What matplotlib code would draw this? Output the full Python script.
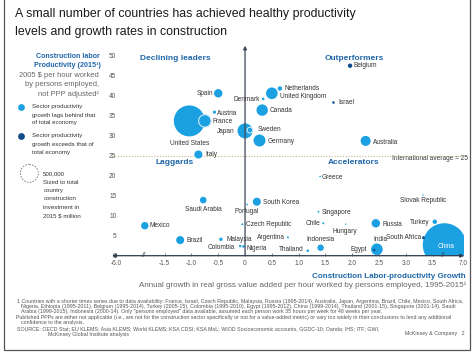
import numpy as np
import matplotlib
matplotlib.use('Agg')
import matplotlib.pyplot as plt
from matplotlib.patches import Circle

plt.rcParams['font.family'] = ['Liberation Sans', 'DejaVu Sans']

W, H, DPI = 474, 355, 100

# ---------------- data ----------------
countries = ["Spain", "Austria", "France", "United States", "Italy", "Japan", "Sweden",
             "Germany", "Canada", "Denmark", "United Kingdom", "Netherlands", "Belgium",
             "Israel", "Australia", "Greece", "Saudi Arabia", "South Korea", "Portugal",
             "Mexico", "Czech Republic", "Brazil", "Malaysia", "Colombia", "Nigeria",
             "Argentina", "Singapore", "Chile", "Hungary", "Russia", "Turkey",
             "Slovak Republic", "Indonesia", "Thailand", "India", "Egypt", "South Africa",
             "China"]
growth = [-0.50, -0.57, -0.75, -1.04, -0.87, 0.00, 0.09,
          0.27, 0.32, 0.34, 0.50, 0.65, 1.96,
          1.65, 2.25, 1.40, -0.78, 0.22, 0.04,
          -1.87, -0.05, -1.21, -0.45, -0.09, -0.03,
          0.80, 1.37, 1.46, 1.88, 2.44, 3.54,
          3.32, 1.41, 1.17, 2.46, 2.41, 3.33,
          3.72]
productivity = [40.6, 35.9, 33.7, 33.7, 25.3, 31.2, 31.4,
                28.8, 36.4, 39.2, 40.6, 41.8, 47.5,
                38.3, 28.7, 19.8, 13.9, 13.5, 12.8,
                7.5, 7.85, 3.9, 4.1, 2.4, 2.3,
                4.6, 11.0, 8.1, 7.9, 8.1, 8.5,
                15.2, 2.0, 1.25, 1.6, 1.4, 4.5,
                2.7]
investment = [110000, 15000, 240000, 1480000, 100000, 350000, 50000,
              220000, 200000, 10000, 210000, 30000, 30000,
              10000, 155000, 4000, 68000, 100000, 4000,
              85000, 6000, 100000, 18000, 10000, 10000,
              6000, 5000, 6000, 3000, 110000, 30000,
              3000, 63000, 10000, 210000, 9000, 14000,
              2900000]
exceeds = [False, False, False, False, False, False, False,
           False, False, False, False, False, True,
           True, False, False, False, False, False,
           False, False, False, False, False, False,
           False, False, False, False, False, False,
           False, False, False, False, True, True,
           False]
outlined = ["France", "Sweden"]

x_ticks = [-6.0, -1.5, -1.0, -0.5, 0.0, 0.5, 1.0, 1.5, 2.0, 2.5, 3.0, 3.5, 7.0]
x_tick_labels = ["-6.0", "-1.5", "-1.0", "-0.5", "0", "0.5", "1.0", "1.5", "2.0",
                 "2.5", "3.0", "3.5", "7.0"]
y_ticks = [0, 5, 10, 15, 20, 25, 30, 35, 40, 45, 50]
y_tick_labels = ["0", "5", "10", "15", "20", "25", "30", "35", "40", "45", "50"]
intl_average = 25
legend_size_value = 500000

# ---------------- styles / layout ----------------
LIGHT = '#1ba1e2'
DARK = '#0e4d8c'
HEAD = '#1f66a8'
TXT = '#333333'
GREY = '#666666'
LBL_FS = 4.7

# label offsets in image pixels (dx right, dy down), alignment
label_layout = {
    "Spain": (-5, 0, 'right'), "Austria": (3, 1, 'left'), "France": (7.5, 0.5, 'left'),
    "United States": (0, 23, 'center'), "Italy": (6.5, 0.5, 'left'),
    "Japan": (-10.7, 0.5, 'right'), "Sweden": (7.7, -1, 'left'),
    "Germany": (8.4, 1, 'left'), "Canada": (7.7, 0.7, 'left'),
    "Denmark": (-3.3, 0.3, 'right'), "United Kingdom": (8.3, 3.4, 'left'),
    "Netherlands": (5, 0, 'left'), "Belgium": (3.3, 0, 'left'), "Israel": (4.4, 0, 'left'),
    "Australia": (7.6, 1.3, 'left'), "Greece": (2, 0.6, 'left'),
    "Saudi Arabia": (0, 9, 'center'), "South Korea": (6, 0.6, 'left'),
    "Portugal": (0, 7, 'center'), "Mexico": (5, 0, 'left'),
    "Czech Republic": (3.5, 0, 'left'), "Brazil": (6, 0, 'left'),
    "Malaysia": (6, 0, 'left'), "Colombia": (-5, 1.3, 'right'),
    "Nigeria": (3.5, 2, 'left'), "Argentina": (-3.4, 0, 'right'),
    "Singapore": (3.3, 0.6, 'left'), "Chile": (-2.6, 0, 'right'),
    "Hungary": (-1, 7, 'center'), "Russia": (6.7, 0.7, 'left'),
    "Turkey": (-5, 1, 'right'), "Slovak Republic": (0, 5.7, 'center'),
    "Indonesia": (0, -8.4, 'center'), "Thailand": (-3.7, -1.4, 'right'),
    "India": (3.3, -10, 'center'), "Egypt": (-7, -0.7, 'right'),
    "South Africa": (-2.5, 0, 'right'), "China": (2, 1.7, 'center'),
}

# ---------------- figure ----------------
fig = plt.figure(figsize=(W / DPI, H / DPI), dpi=DPI)
fig.patch.set_facecolor('white')

# overlay in image pixel coordinates
ov = fig.add_axes([0, 0, 1, 1], zorder=0)
ov.set_xlim(0, W)
ov.set_ylim(H, 0)
ov.axis('off')

# main axes
x0_px, x1_px = 112.1, 464.0
y0_px = 255.7
ymax = 52
ppu = 4.0
ax = fig.add_axes([x0_px / W, 1 - y0_px / H, (x1_px - x0_px) / W, ymax * ppu / H], zorder=1)
ax.set_facecolor('none')


def fwd(x):
    x = np.asarray(x, float)
    return np.where(x < -2, -2 + (x + 2) * 0.1, np.where(x > 3.75, 3.75 + (x - 3.75) * 0.1, x))


def inv(p):
    p = np.asarray(p, float)
    return np.where(p < -2, -2 + (p + 2) / 0.1, np.where(p > 3.75, 3.75 + (p - 3.75) / 0.1, p))


ax.set_xscale('function', functions=(fwd, inv))
ax.set_xlim(-6.8, 7.1)
ax.set_ylim(0, ymax)
for sp in ax.spines.values():
    sp.set_visible(False)

ax.set_xticks(x_ticks)
ax.set_xticklabels(x_tick_labels)
ax.set_yticks(y_ticks)
ax.set_yticklabels(y_tick_labels)
ax.tick_params(axis='x', direction='in', length=2, width=0.5, colors='#555555',
               labelsize=4.7, pad=3)
ax.tick_params(axis='y', length=0, labelsize=4.7, pad=-3, colors='#555555')
ax.minorticks_off()

# international average
ax.axhline(intl_average, color='#c8b98c', lw=0.8, ls=(0, (1, 1.5)), zorder=1)

# axes arrows
ax.annotate('', xy=(7.1, 0), xytext=(-6.8, 0), annotation_clip=False,
            arrowprops=dict(arrowstyle='<|-|>', color='#2d3b4c', lw=0.9,
                            mutation_scale=5, shrinkA=0, shrinkB=0), zorder=3)
ax.annotate('', xy=(0, 52.5), xytext=(0, 0), annotation_clip=False,
            arrowprops=dict(arrowstyle='-|>', color='#3a4656', lw=0.9,
                            mutation_scale=5, shrinkA=0, shrinkB=0), zorder=3)
for bx in (-1.9, 3.68):
    ax.text(bx, 0, '//', fontsize=5, color='#2d3b4c', ha='center', va='center',
            style='italic', zorder=4)

# bubbles
size_scale = 168.0 / legend_size_value
order = np.argsort(-np.asarray(investment))
gx = np.asarray(growth)[order]
gy = np.asarray(productivity)[order]
gs = np.asarray(investment)[order] * size_scale
gc = [DARK if exceeds[i] else LIGHT for i in order]
ge = ['#cde9f8' if countries[i] in outlined else 'none' for i in order]
glw = [0.8 if countries[i] in outlined else 0 for i in order]
ax.scatter(gx, gy, s=gs, c=gc, edgecolors=ge, linewidths=glw, zorder=2, clip_on=True)

for name, x, y in zip(countries, growth, productivity):
    dx, dy, ha = label_layout[name]
    col = 'white' if name == 'China' else TXT
    ax.annotate(name, xy=(x, y), xytext=(dx, -dy), textcoords='offset pixels',
                ha=ha, va='center', fontsize=LBL_FS, color=col, zorder=5)

ov.text(468, 159, 'International average = 25', fontsize=LBL_FS, color=TXT,
        va='center', ha='right')

# quadrant headings
for s, px, py in [("Declining leaders", 175, 59), ("Outperformers", 354, 59),
                  ("Laggards", 175, 163), ("Accelerators", 354, 163)]:
    ov.text(px, py, s, fontsize=6, color=HEAD, fontweight='bold', ha='center', va='center')

# title
ov.text(15, 14, "A small number of countries has achieved healthy productivity",
        fontsize=8.9, color='#1a1a1a', va='center', ha='left')
ov.text(15, 31.5, "levels and growth rates in construction",
        fontsize=8.9, color='#1a1a1a', va='center', ha='left')

# y-axis title block
ov.text(100, 56.7, "Construction labor", fontsize=5.1, fontweight='bold', color=HEAD,
        ha='right', va='center')
ov.text(101, 65.7, "Productivity (2015\u00b9)", fontsize=5.1, fontweight='bold', color=HEAD,
        ha='right', va='center')
for s, py in [("2005 $ per hour worked", 75.7), ("by persons employed,", 85),
              ("not PPP adjusted\u00b2", 95)]:
    ov.text(99, py, s, fontsize=5.4, color=GREY, ha='right', va='center')

# legend
ov.scatter([20.7], [107.3], s=15, color=LIGHT, zorder=3)
ov.scatter([20.7], [136], s=15, color=DARK, zorder=3)
for s, py in [("Sector productivity", 106.7), ("growth lags behind that", 115),
              ("of total economy", 122.7), ("Sector productivity", 135.7),
              ("growth exceeds that of", 144.3), ("total economy", 152.3)]:
    ov.text(32, py, s, fontsize=4.4, color=TXT, ha='left', va='center')
ov.add_patch(Circle((29.3, 173.3), 9, fill=False, ec='#777777', lw=0.6, ls=(0, (2, 1.5))))
for s, py in [("500,000", 173.3), ("Sized to total", 182.3), ("country", 190.6),
              ("construction", 199), ("investment in", 207.3), ("2015 $ million", 215.6)]:
    ov.text(43.3, py, s, fontsize=4.4, color=TXT, ha='left', va='center')

# x-axis title
ov.text(466, 276, "Construction Labor-productivity Growth", fontsize=5.8, fontweight='bold',
        color=HEAD, ha='right', va='center')
ov.text(466, 285.7, "Annual growth in real gross value added per hour worked by persons "
        "employed, 1995-2015\u00b9", fontsize=5.8, color=GREY, ha='right', va='center')

# footnotes
FN = 3.8
FC = '#555555'
notes = [
    (16.7, 301.7, "1 Countries with a shorter times series due to data availability: France, Israel, "
     "Czech Republic, Malaysia, Russia (1995-2014), Australia, Japan, Argentina, Brazil, Chile, "
     "Mexico, South Africa,"),
    (21, 306.9, "Nigeria, Ethiopia (1995-2011), Belgium (1995-2014), Turkey (2005-15), Colombia "
     "(1995-2010), Egypt (1995-2012), China (1999-2014), Thailand (2001-15), Singapore (2001-14), Saudi"),
    (21, 312, "Arabia (1999-2015), Indonesia (2000-14). Only \"persons employed\" data available, "
     "assumed each person work 35 hours per week for 48 weeks per year."),
    (16, 317.3, "Published PPPs are either not applicable (i.e., are not for the construction sector "
     "specifically or not for a value-added metric) or vary too widely in their conclusions to lend "
     "any additional"),
    (21, 322.5, "confidence to the analysis."),
    (16.7, 328.7, "SOURCE: OECD Stat; EU KLEMS; Asia KLEMS; World KLEMS; KSA CDSI; KSA MoL; WIOD "
     "Socioeconomic accounts, GGDC-10; Oanda; IHS; ITF; GWI,"),
    (48, 334.3, "McKinsey Global Institute analysis"),
]
for px, py, s in notes:
    ov.text(px, py, s, fontsize=FN, color=FC, ha='left', va='center')
ov.text(465, 333.3, "McKinsey & Company   2", fontsize=FN, color=FC, ha='right', va='center')

# frame
ov.plot([4, 4, 470, 470], [0, 349.5, 349.5, 0], color='#555555', lw=0.9,
        solid_joinstyle='miter')

fig.savefig('out.png', dpi=DPI, facecolor='white')
